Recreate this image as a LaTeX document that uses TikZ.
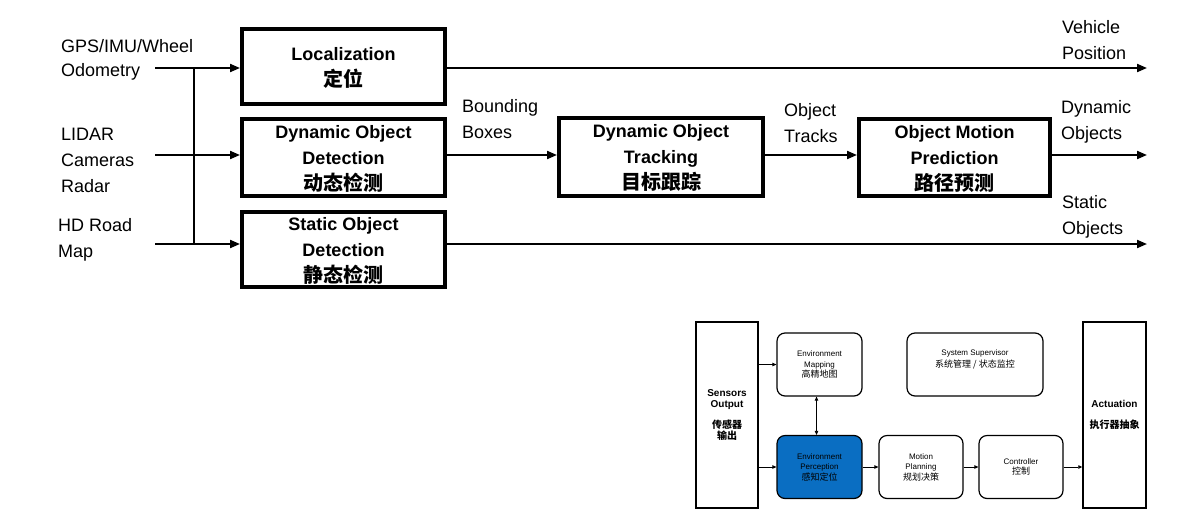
\documentclass[tikz,border=0pt]{standalone}
\usepackage{fontspec}
\setmainfont{Liberation Sans}
\newfontfamily\cjk{Noto Sans CJK SC}
\usetikzlibrary{arrows.meta}
\tikzset{
    blk/.style={draw,line width=4pt,inner sep=0pt,align=center,font=\fontsize{18}{26}\selectfont\bfseries,text depth=-9pt},
    lbl/.style={inner sep=0pt,align=left,font=\fontsize{18}{26}\selectfont},
    arr/.style={line width=2pt,-{Triangle[length=10pt,width=8pt]}},
    rblk/.style={draw,line width=1.2pt,rounded corners=8pt,inner sep=0pt,align=center,minimum width=85,minimum height=63,font=\fontsize{8}{10.5}\selectfont},
    sblk/.style={draw,line width=1.5pt,inner sep=0pt,align=center,minimum width=62,minimum height=186,font=\fontsize{10}{10.5}\selectfont\bfseries},
    sarr/.style={line width=0.8pt,-{Triangle[length=4pt,width=3.5pt]}}
}
\begin{document}
\begin{tikzpicture}[x=1pt,y=-1pt]
        \useasboundingbox (0,0) rectangle (1202,523);
        \node[blk,minimum width=203,minimum height=75] (loc) at (343.5,66.5) {Localization\\{\cjk\fontsize{20}{26}\selectfont 定位}};
        \node[blk,minimum width=203,minimum height=77] (ddet) at (343.5,157.5) {Dynamic Object\\Detection\\{\cjk\fontsize{20}{26}\selectfont 动态检测}};
        \node[blk,minimum width=203,minimum height=75] (sdet) at (343.5,249.5) {Static Object\\Detection\\{\cjk\fontsize{20}{26}\selectfont 静态检测}};
        \node[blk,minimum width=204,minimum height=78] (trk) at (661,157) {Dynamic Object\\Tracking\\{\cjk\fontsize{20}{26}\selectfont 目标跟踪}};
        \node[blk,minimum width=191,minimum height=77] (pred) at (954.5,157.5) {Object Motion\\Prediction\\{\cjk\fontsize{20}{26}\selectfont 路径预测}};

        \coordinate (odo) at (155,68);
        \coordinate (sens) at (155,155);
        \coordinate (hd) at (155,244);
        \coordinate (bus) at (194,0);
        \coordinate (vpos) at (1147,68);
        \coordinate (dobj) at (1147,155);
        \coordinate (sobj) at (1147,244);

        \node[lbl,anchor=west] (gpsl) at (61,60) {GPS/IMU/Wheel\\[-2pt]Odometry};
        \node[lbl,anchor=west] (sensl) at (61,160) {LIDAR\\Cameras\\Radar};
        \node[lbl,anchor=west] (hdl) at (58,240) {HD Road\\Map};
        \node[lbl,anchor=west] (bbl) at (462,119) {Bounding\\Boxes};
        \node[lbl,anchor=west] (otl) at (784,123) {Object\\Tracks};
        \node[lbl,anchor=west] (vpl) at (1062,40) {Vehicle\\Position};
        \node[lbl,anchor=west] (dol) at (1061,122) {Dynamic\\Objects};
        \node[lbl,anchor=west] (sol) at (1062,217) {Static\\Objects};

        \draw[arr] (odo) -- (loc.west |- odo);
        \draw[arr] (sens) -- (ddet.west |- sens);
        \draw[arr] (hd) -- (sdet.west |- hd);
        \draw[line width=2pt] (bus |- odo) -- (bus |- hd);
        \draw[arr] (loc.east |- vpos) -- (vpos);
        \draw[arr] (ddet.east |- dobj) -- (trk.west |- dobj);
        \draw[arr] (trk.east |- dobj) -- (pred.west |- dobj);
        \draw[arr] (pred.east |- dobj) -- (dobj);
        \draw[arr] (sdet.east |- sobj) -- (sobj);

        \node[sblk] (sout) at (727,415) {Sensors\\Output\\[10pt]{\cjk 传感器}\\{\cjk 输出}};
        \node[sblk,minimum width=63] (act) at (1114.5,415) {Actuation\\[10pt]{\cjk 执行器抽象}};
        \node[rblk] (map) at (819.5,364.5) {Environment\\Mapping\\{\cjk\fontsize{9}{10.5}\selectfont 高精地图}};
        \node[rblk,minimum width=136] (sup) at (975,364.5) {System Supervisor\\[1pt]{\cjk\fontsize{9}{10.5}\selectfont 系统管理 / 状态监控}\\[1pt]};
        \node[rblk,fill={rgb,255:red,10;green,110;blue,194}] (perc) at (819.5,467) {Environment\\Perception\\{\cjk\fontsize{9}{10.5}\selectfont 感知定位}};
        \node[rblk,minimum width=84] (plan) at (921,467) {Motion\\Planning\\{\cjk\fontsize{9}{10.5}\selectfont 规划决策}};
        \node[rblk,minimum width=84] (ctrl) at (1021,467) {Controller\\{\cjk\fontsize{9}{10.5}\selectfont 控制}};

        \draw[sarr] (sout.east |- map) -- (map.west);
        \draw[sarr] (sout.east |- perc) -- (perc.west);
        \draw[sarr] (perc) -- (plan);
        \draw[sarr] (plan) -- (ctrl);
        \draw[sarr] (ctrl) -- (act.west |- ctrl);
        \draw[sarr,{Triangle[length=4pt,width=3.5pt]}-{Triangle[length=4pt,width=3.5pt]}] ([xshift=-3pt]map.south) -- ([xshift=-3pt]perc.north);
\end{tikzpicture}
\end{document}
